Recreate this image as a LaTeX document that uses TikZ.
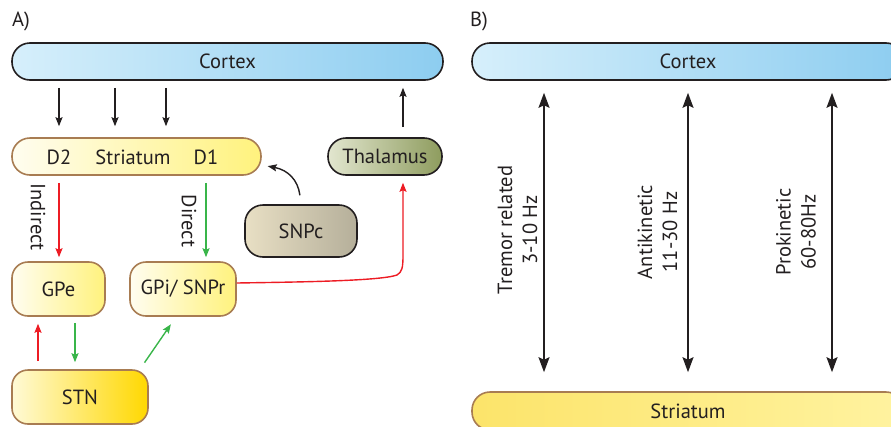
\documentclass[tikz,border=0pt]{standalone}
\usepackage{fontspec}
\setmainfont{PT Sans}
\usetikzlibrary{arrows.meta}
\definecolor{cxleft}{HTML}{D6EFFB}
\definecolor{cxright}{HTML}{8DCDF0}
\definecolor{stleft}{HTML}{FFFDF0}
\definecolor{stright}{HTML}{FFF27D}
\definecolor{thleft}{HTML}{E2E6CF}
\definecolor{thright}{HTML}{8E9C5E}
\definecolor{snleft}{HTML}{E8DFC4}
\definecolor{snright}{HTML}{B5AF9A}
\definecolor{stnleft}{HTML}{FFFAD6}
\definecolor{stnmid}{HTML}{FFF000}
\definecolor{stnright}{HTML}{FFD800}
\definecolor{sbleft}{HTML}{FCE46A}
\definecolor{sbmid}{HTML}{FFFBE3}
\definecolor{sbright}{HTML}{FFF3A0}
\definecolor{brd}{HTML}{A87C52}
\definecolor{ink}{HTML}{231F20}
\definecolor{pathred}{HTML}{ED1C24}
\definecolor{pathgreen}{HTML}{39B54A}
\tikzset{
  lbl/.style={font=\fontsize{20.5}{25}\selectfont, text=ink},
  box/.style={lbl, rectangle, line width=1.6pt, inner sep=0pt},
  bluebox/.style={box, draw=ink, left color=cxleft, right color=cxright},
  yellowbox/.style={box, draw=brd, left color=stleft, right color=stright},
  arrA/.style={-{Stealth[length=9pt,width=7pt,inset=1.5pt]}, line width=1.4pt},
  arrB/.style={{Stealth[length=15pt,width=11pt,inset=2.5pt]}-{Stealth[length=15pt,width=11pt,inset=2.5pt]}, line width=1.5pt, ink},
}
\begin{document}
\begin{tikzpicture}[x=1pt, y=-1pt] % basal ganglia loops
        \clip (0,0) rectangle (891,426);
        % panel A
        \node[lbl] (labA) at (21,21) {A)};
        \node[bluebox, minimum width=431, minimum height=37, rounded corners=18pt] (cxA) at (227.5,61.5) {Cortex};
        \node[yellowbox, minimum width=249, minimum height=37, rounded corners=18pt] (strA) at (136.5,156.5) {};
        \node[lbl] (d2) at (59,157) {D2};
        \node[lbl] (strtext) at (133,157) {Striatum};
        \node[lbl] (d1) at (206,157) {D1};
        \node[box, draw=ink, left color=thleft, right color=thright, minimum width=114, minimum height=37, rounded corners=18pt] (thal) at (385,156.5) {Thalamus};
        \node[box, draw=ink, left color=snleft, right color=snright, minimum width=112, minimum height=52, rounded corners=18pt] (snpc) at (301,231) {SNPc};
        \node[yellowbox, minimum width=93, minimum height=54, rounded corners=16pt] (gpe) at (58.5,289) {GPe};
        \node[yellowbox, minimum width=106, minimum height=54, rounded corners=16pt] (gpi) at (183,289) {GPi/ SNPr};
        \node[box, draw=brd, left color=stnleft, middle color=stnmid, right color=stnright, minimum width=136, minimum height=54, rounded corners=16pt] (stn) at (80,397) {STN};
        \node[lbl, rotate=-90] (indir) at (38,217) {Indirect};
        \node[lbl, rotate=-90] (dir) at (189,221) {Direct};
        \draw[arrA, ink, shorten <=7pt, shorten >=11pt] (cxA.south -| d2) -- (strA.north -| d2);
        \draw[arrA, ink, shorten <=7pt, shorten >=11pt] (cxA.south -| 115,0) -- (strA.north -| 115,0);
        \draw[arrA, ink, shorten <=7pt, shorten >=11pt] (cxA.south -| 166,0) -- (strA.north -| 166,0);
        \draw[arrA, ink, shorten <=10pt, shorten >=7pt] (thal.north -| 403,0) -- (cxA.south -| 403,0);
        \draw[arrA, ink, shorten <=9pt, shorten >=6pt] (snpc.north) .. controls (298,180) and (288,170) .. (strA.east |- 0,165);
        \draw[arrA, pathred, shorten <=7pt, shorten >=4pt] (strA.south -| d2) -- (gpe.north -| d2);
        \draw[arrA, pathgreen, shorten <=7pt, shorten >=4pt] (strA.south -| d1) -- (gpi.north -| d1);
        \draw[arrA, pathred, shorten >=7pt] (gpi.east |- 0,283) .. controls (300,282) and (380,281) .. (397,275) .. controls (402,272) and (403,268) .. (403,255) -- (thal.south -| 403,0);
        \draw[arrA, pathred, shorten <=8pt, shorten >=7pt] (stn.north -| 38,0) -- (gpe.south -| 38,0);
        \draw[arrA, pathgreen, shorten <=6pt, shorten >=7pt] (gpe.south -| 75,0) -- (stn.north -| 75,0);
        \draw[arrA, pathgreen, shorten <=8pt, shorten >=9pt] (stn.north -| 140,0) -- (gpi.south -| 176,0);
        % panel B
        \node[lbl] (labB) at (479,21) {B)};
        \node[bluebox, minimum width=432, minimum height=37, rounded corners=18pt] (cxB) at (688,61.5) {Cortex};
        \node[box, draw=brd, left color=sbleft, middle color=sbmid, right color=sbright, minimum width=432, minimum height=38, rounded corners=18pt] (strB) at (688,411) {Striatum};
        \draw[arrB, shorten <=12pt, shorten >=19pt] (cxB.south -| 544,0) -- (strB.north -| 544,0);
        \draw[arrB, shorten <=12pt, shorten >=19pt] (cxB.south -| 688,0) -- (strB.north -| 688,0);
        \draw[arrB, shorten <=12pt, shorten >=19pt] (cxB.south -| 832,0) -- (strB.north -| 832,0);
        \node[lbl, rotate=90, align=center] (tremor) at (517.5,230) {Tremor related\\3-10 Hz};
        \node[lbl, rotate=90, align=center] (anti) at (657.5,232) {Antikinetic\\11-30 Hz};
        \node[lbl, rotate=90, align=center] (pro) at (796,232) {Prokinetic\\60-80Hz};
      \end{tikzpicture}
\end{document}
